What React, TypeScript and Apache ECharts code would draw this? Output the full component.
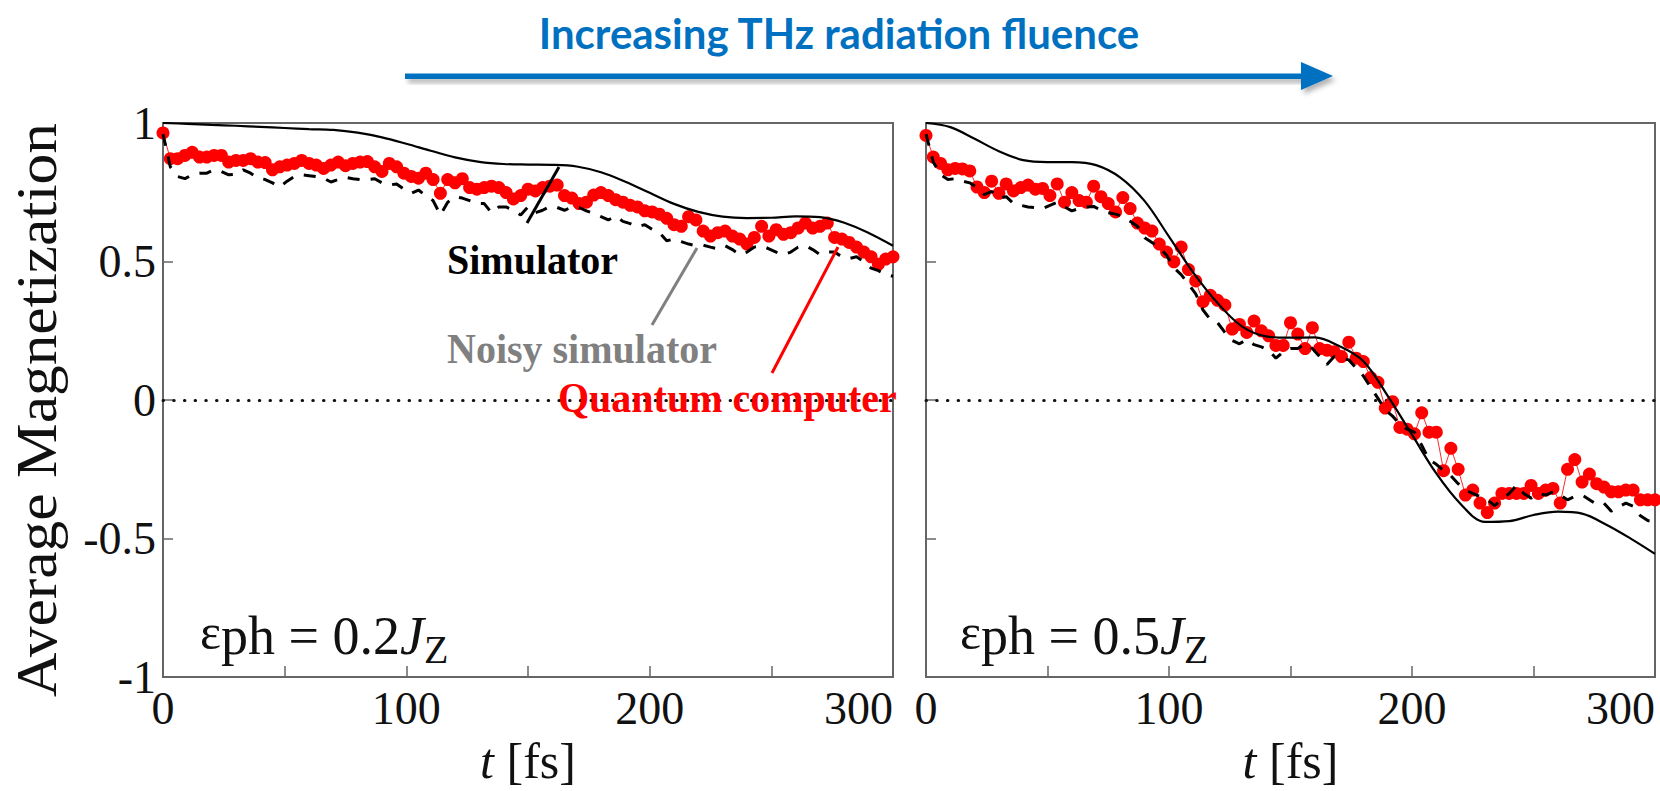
import React, { useEffect, useRef } from "react";
import * as echarts from "echarts";

// sampling times (fs)
const tFine = [
  0, 3, 6, 9, 12, 15, 18, 21, 24, 27, 30, 33, 36, 39, 42, 45, 48, 51, 54, 57,
  60, 63, 66, 69, 72, 75, 78, 81, 84, 87, 90, 93, 96, 99, 102, 105, 108, 111, 114, 117,
  120, 123, 126, 129, 132, 135, 138, 141, 144, 147, 150, 153, 156, 159, 162, 165, 168, 171, 174, 177,
  180, 183, 186, 189, 192, 195, 198, 201, 204, 207, 210, 213, 216, 219, 222, 225, 228, 231, 234, 237,
  240, 243, 246, 249, 252, 255, 258, 261, 264, 267, 270, 273, 276, 279, 282, 285, 288, 291, 294, 297, 300,
];
const tCoarse = [
  0, 10, 20, 30, 40, 50, 60, 70, 80, 90, 100, 110, 120, 130, 140, 150, 160, 170, 180, 190,
  200, 210, 220, 230, 240, 250, 260, 270, 280, 290, 300,
];

// panel 1: eps_ph = 0.2 Jz
const simLeft = [
  1.0, 0.997, 0.993, 0.99, 0.986, 0.982, 0.978, 0.975, 0.965, 0.948, 0.925, 0.9, 0.876, 0.86, 0.852,
  0.85, 0.849, 0.843, 0.822, 0.788, 0.748, 0.708, 0.679, 0.662, 0.657, 0.658, 0.663, 0.66, 0.64, 0.603, 0.557,
];
const noisyLeft = [
  0.96, 0.842, 0.807, 0.799, 0.813, 0.819, 0.819, 0.831, 0.825, 0.813,
  0.815, 0.831, 0.819, 0.801, 0.796, 0.784, 0.769, 0.79, 0.807, 0.813,
  0.81, 0.807, 0.801, 0.787, 0.796, 0.804, 0.799, 0.796, 0.796, 0.799,
  0.784, 0.776, 0.78, 0.761, 0.746, 0.758, 0.738, 0.72, 0.668, 0.714,
  0.734, 0.729, 0.72, 0.709, 0.709, 0.676, 0.697, 0.697, 0.685, 0.668,
  0.697, 0.676, 0.685, 0.699, 0.695, 0.685, 0.697, 0.695, 0.683, 0.674,
  0.662, 0.65, 0.664, 0.645, 0.637, 0.625, 0.633, 0.616, 0.604, 0.575,
  0.581, 0.572, 0.563, 0.557, 0.559, 0.552, 0.546, 0.557, 0.543, 0.525,
  0.534, 0.552, 0.557, 0.546, 0.534, 0.525, 0.534, 0.552, 0.557, 0.543,
  0.525, 0.534, 0.534, 0.517, 0.511, 0.517, 0.499, 0.476, 0.467, 0.453,
  0.447,
];
const qcLeft = [
  0.964, 0.871, 0.871, 0.883, 0.894, 0.877, 0.877, 0.883, 0.883, 0.859,
  0.865, 0.865, 0.871, 0.859, 0.857, 0.831, 0.842, 0.848, 0.854, 0.865,
  0.854, 0.848, 0.836, 0.848, 0.859, 0.846, 0.854, 0.859, 0.861, 0.842,
  0.825, 0.854, 0.842, 0.819, 0.807, 0.801, 0.819, 0.796, 0.746, 0.796,
  0.784, 0.799, 0.767, 0.761, 0.767, 0.772, 0.767, 0.749, 0.726, 0.738,
  0.761, 0.755, 0.767, 0.772, 0.776, 0.738, 0.729, 0.709, 0.714, 0.74,
  0.749, 0.738, 0.723, 0.714, 0.703, 0.697, 0.683, 0.679, 0.671, 0.656,
  0.633, 0.627, 0.662, 0.65, 0.61, 0.592, 0.604, 0.61, 0.592, 0.581,
  0.563, 0.587, 0.627, 0.592, 0.615, 0.598, 0.604, 0.621, 0.639, 0.621,
  0.627, 0.639, 0.587, 0.581, 0.569, 0.552, 0.534, 0.517, 0.49, 0.509,
  0.517,
];

// panel 2: eps_ph = 0.5 Jz
const simRight = [
  1.0, 0.985, 0.943, 0.898, 0.866, 0.859, 0.859, 0.848, 0.803, 0.718, 0.59, 0.46, 0.35, 0.266, 0.23,
  0.225, 0.226, 0.195, 0.14, 0.015, -0.125, -0.265, -0.375, -0.44, -0.437, -0.415, -0.403, -0.41, -0.45, -0.5, -0.555,
];
const noisyRight = [
  0.96, 0.859, 0.813, 0.796, 0.799, 0.79, 0.784, 0.767, 0.741, 0.753,
  0.729, 0.734, 0.709, 0.703, 0.697, 0.695, 0.691, 0.703, 0.714, 0.697,
  0.683, 0.691, 0.697, 0.699, 0.685, 0.676, 0.671, 0.662, 0.645, 0.627,
  0.586, 0.569, 0.552, 0.523, 0.477, 0.453, 0.418, 0.383, 0.325, 0.291,
  0.279, 0.244, 0.215, 0.203, 0.218, 0.2, 0.192, 0.18, 0.151, 0.174,
  0.186, 0.186, 0.203, 0.186, 0.157, 0.128, 0.157, 0.151, 0.145, 0.116,
  0.087, 0.046, 0.006, -0.035, -0.058, -0.087, -0.105, -0.116, -0.163, -0.215,
  -0.232, -0.255, -0.273, -0.302, -0.325, -0.337, -0.348, -0.36, -0.381, -0.36,
  -0.337, -0.308, -0.337, -0.354, -0.337, -0.343, -0.331, -0.343, -0.36, -0.348,
  -0.343, -0.36, -0.377, -0.372, -0.401, -0.386, -0.372, -0.383, -0.418, -0.435,
  -0.44,
];
const qcRight = [
  0.955, 0.877, 0.854, 0.831, 0.836, 0.834, 0.827, 0.769, 0.749, 0.79,
  0.746, 0.78, 0.755, 0.767, 0.776, 0.761, 0.764, 0.738, 0.78, 0.714,
  0.749, 0.72, 0.714, 0.772, 0.734, 0.709, 0.679, 0.731, 0.691, 0.639,
  0.621, 0.61, 0.563, 0.534, 0.499, 0.552, 0.471, 0.43, 0.355, 0.378,
  0.36, 0.343, 0.256, 0.273, 0.244, 0.285, 0.25, 0.232, 0.197, 0.197,
  0.279, 0.238, 0.186, 0.261, 0.186, 0.18, 0.174, 0.157, 0.209, 0.151,
  0.139, 0.081, 0.064, -0.029, -0.006, -0.099, -0.105, -0.122, -0.046, -0.116,
  -0.116, -0.255, -0.174, -0.25, -0.343, -0.325, -0.372, -0.406, -0.372, -0.337,
  -0.337, -0.337, -0.337, -0.308, -0.337, -0.325, -0.319, -0.372, -0.25, -0.215,
  -0.296, -0.267, -0.302, -0.314, -0.331, -0.331, -0.325, -0.325, -0.36, -0.36,
  -0.36,
];

const yTickLabels = ["-1", "-0.5", "0", "0.5", "1"];
const titleText = "Increasing THz radiation fluence";
const yTitle = "Average Magnetization";
const panelEps = ["0.2", "0.5"];

const SERIF = "'Liberation Serif', 'Times New Roman', serif";
const AX = "#666";

const zip = (xs: number[], ys: number[]) => ys.map((v, i) => [xs[i], v]);

function mkX(idx: number) {
  return {
    type: "value",
    gridIndex: idx,
    min: 0,
    max: 300,
    interval: 50,
    axisLine: { show: true, onZero: false, lineStyle: { color: AX, width: 2 } },
    axisTick: { show: true, inside: true, length: 11, lineStyle: { color: AX, width: 1.5 } },
    splitLine: { show: false },
    axisLabel: {
      fontFamily: SERIF,
      fontSize: 46,
      color: "#111",
      margin: 8,
      alignMaxLabel: "right",
      formatter: (v: number) => (v % 100 === 0 ? String(v) : ""),
    },
    name: "{i|t} [fs]",
    nameLocation: "middle",
    nameGap: 48,
    nameTextStyle: {
      fontFamily: SERIF,
      fontSize: 50,
      color: "#111",
      rich: { i: { fontFamily: SERIF, fontSize: 50, fontStyle: "italic", color: "#111" } },
    },
  };
}

function mkY(idx: number, labels: boolean) {
  return {
    type: "value",
    gridIndex: idx,
    min: -1,
    max: 1,
    interval: 0.5,
    axisLine: { show: true, onZero: false, lineStyle: { color: AX, width: 2 } },
    axisTick: { show: true, inside: true, length: 10, lineStyle: { color: AX, width: 1.5 } },
    splitLine: { show: false },
    axisLabel: {
      show: labels,
      fontFamily: SERIF,
      fontSize: 46,
      color: "#111",
      margin: 7,
      formatter: (v: number) => yTickLabels[Math.round((v + 1) * 2)],
    },
  };
}

function panelSeries(idx: number, qc: number[], noisy: number[], sim: number[]) {
  return [
    {
      type: "line",
      xAxisIndex: idx,
      yAxisIndex: idx,
      data: zip(tFine, qc),
      symbol: "circle",
      symbolSize: 13,
      itemStyle: { color: "#ff0000" },
      lineStyle: { color: "#ff2a2a", width: 1 },
      z: 2,
      markLine: {
        silent: true,
        symbol: ["none", "none"],
        label: { show: false },
        lineStyle: { color: "#111", width: 3, type: [0.5, 10.2], cap: "round" },
        data: [{ yAxis: 0 }],
        z: 1,
      },
    },
    {
      type: "line",
      xAxisIndex: idx,
      yAxisIndex: idx,
      data: zip(tFine, noisy),
      symbol: "none",
      lineStyle: { color: "#000", width: 3, type: [12, 11] },
      z: 3,
    },
    {
      type: "line",
      xAxisIndex: idx,
      yAxisIndex: idx,
      data: zip(tCoarse, sim),
      symbol: "none",
      smooth: 0.35,
      lineStyle: { color: "#000", width: 2.2 },
      z: 4,
    },
  ];
}

function epsText(x: number, val: string) {
  return {
    type: "text",
    x,
    y: 636,
    z: 10,
    style: {
      text: `{e|ε}{n|ph = ${val}}{j|J}{z|Z}`,
      textVerticalAlign: "middle",
      textAlign: "left",
      fill: "#111",
      fontFamily: SERIF,
      fontSize: 54,
      rich: {
        e: { fontFamily: SERIF, fontSize: 50, padding: [0, 0, 8, 0], fill: "#111" },
        n: { fontFamily: SERIF, fontSize: 54, fill: "#111" },
        j: { fontFamily: SERIF, fontSize: 54, fontStyle: "italic", fill: "#111" },
        z: { fontFamily: SERIF, fontSize: 40, padding: [26, 0, 0, 0], fill: "#111" },
      },
    },
  };
}

function label(text: string, x: number, y: number, color: string) {
  return {
    type: "text",
    x,
    y,
    z: 10,
    scaleY: 1.08,
    style: {
      text,
      fill: color,
      fontFamily: SERIF,
      fontWeight: "bold",
      fontSize: 40,
      textVerticalAlign: "middle",
      textAlign: "left",
    },
  };
}

function pointer(x1: number, y1: number, x2: number, y2: number, color: string) {
  return {
    type: "line",
    z: 10,
    shape: { x1, y1, x2, y2 },
    style: { stroke: color, lineWidth: 3 },
  };
}

export default function App() {
  const ref = useRef<HTMLDivElement>(null);
  useEffect(() => {
    if (!ref.current) return;
    const chart = echarts.init(ref.current, null, { renderer: "svg" });
    const shadow = {
      shadowColor: "rgba(0,0,0,0.3)",
      shadowBlur: 5,
      shadowOffsetX: 3,
      shadowOffsetY: 4,
    };
    chart.setOption({
      animation: false,
      backgroundColor: "#fff",
      grid: [
        { left: 163, top: 123, width: 730, height: 574, show: true, borderColor: AX, borderWidth: 2 },
        { left: 926, top: 123, width: 729, height: 574, show: true, borderColor: AX, borderWidth: 2 },
      ],
      xAxis: [mkX(0), mkX(1)],
      yAxis: [mkY(0, true), mkY(1, false)],
      series: [
        ...panelSeries(0, qcLeft, noisyLeft, simLeft),
        ...panelSeries(1, qcRight, noisyRight, simRight),
      ],
      graphic: [
        {
          type: "text",
          x: 839,
          y: 33,
          style: {
            text: titleText,
            fill: "#0070C0",
            fontFamily: "Lato, 'Open Sans', sans-serif",
            fontWeight: "bold",
            fontSize: 42,
            textAlign: "center",
            textVerticalAlign: "middle",
          },
        },
        {
          type: "rect",
          shape: { x: 405, y: 73.5, width: 901, height: 5.5 },
          style: { fill: "#0070C0", ...shadow },
        },
        {
          type: "polygon",
          shape: { points: [[1301, 62], [1333, 76], [1301, 90]] },
          style: { fill: "#0070C0", ...shadow },
        },
        {
          type: "text",
          x: 37,
          y: 410,
          rotation: Math.PI / 2,
          scaleX: 1.06,
          style: {
            text: yTitle,
            fill: "#111",
            fontFamily: SERIF,
            fontSize: 58,
            textAlign: "center",
            textVerticalAlign: "middle",
          },
        },
        epsText(200, panelEps[0]),
        epsText(960, panelEps[1]),
        label("Simulator", 447, 259, "#000"),
        label("Noisy simulator", 447, 348, "#808080"),
        label("Quantum computer", 558, 397, "#ff0000"),
        pointer(527, 223, 559, 167, "#000"),
        pointer(652, 325, 697, 248, "#808080"),
        pointer(772, 373, 838, 247, "#ff0000"),
      ],
    });
    return () => chart.dispose();
  }, []);
  return (
    <div
      ref={ref}
      style={{ position: "absolute", left: 0, top: 0, width: 1660, height: 791, background: "#fff" }}
    />
  );
}
